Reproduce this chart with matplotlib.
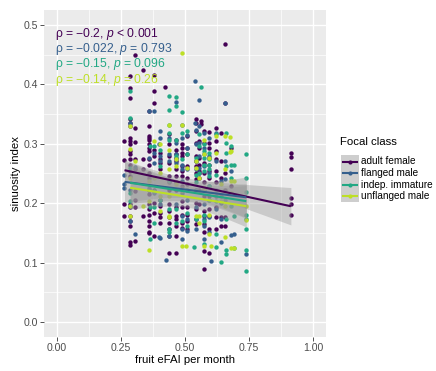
import numpy as np
import matplotlib
matplotlib.use("Agg")
import matplotlib.pyplot as plt
from matplotlib.patches import Rectangle
from matplotlib.lines import Line2D

plt.rcParams['font.family'] = ['Liberation Sans', 'DejaVu Sans']
plt.rcParams['mathtext.fontset'] = 'custom'
plt.rcParams['mathtext.rm'] = 'Liberation Sans'
plt.rcParams['mathtext.it'] = 'Liberation Sans:italic'

# sinuosity index per focal follow, grouped by monthly fruit eFAI value
adult_female = {
    0.264: [0.304, 0.272, 0.199, 0.179],
    0.286: [0.414, 0.394, 0.377, 0.341, 0.335, 0.330, 0.310, 0.304, 0.299, 0.288, 0.282,
            0.274, 0.265, 0.254, 0.246, 0.198, 0.193, 0.179, 0.170, 0.162, 0.134, 0.130],
    0.306: [0.449, 0.327, 0.303, 0.274, 0.257, 0.220, 0.206, 0.193, 0.136],
    0.335: [0.424, 0.274, 0.257, 0.179],
    0.358: [0.355, 0.330, 0.313, 0.310, 0.307, 0.299, 0.293, 0.288, 0.274, 0.265, 0.251,
            0.243, 0.223, 0.215, 0.198, 0.190, 0.181, 0.170, 0.162, 0.151, 0.150],
    0.378: [0.416, 0.388, 0.368, 0.290, 0.279, 0.223, 0.201, 0.184, 0.145],
    0.404: [0.285, 0.274, 0.268, 0.257, 0.206, 0.195, 0.184, 0.176, 0.167],
    0.421: [0.396],
    0.437: [0.316, 0.299, 0.279, 0.268, 0.246, 0.235, 0.223, 0.198, 0.187, 0.176, 0.167,
            0.156, 0.145, 0.117],
    0.463: [0.307, 0.290, 0.282, 0.276, 0.271, 0.257, 0.246, 0.235, 0.223, 0.193, 0.179,
            0.173, 0.162, 0.145, 0.117],
    0.490: [0.299, 0.293, 0.285, 0.279, 0.262, 0.254, 0.246, 0.229, 0.204, 0.193, 0.181,
            0.167, 0.159],
    0.509: [0.313, 0.293, 0.282, 0.262, 0.243, 0.232, 0.223, 0.193, 0.181, 0.170, 0.156],
    0.542: [0.341, 0.335, 0.321, 0.302, 0.279, 0.271, 0.262, 0.251, 0.240, 0.223, 0.201,
            0.190, 0.173, 0.165],
    0.555: [0.304, 0.293, 0.276, 0.265, 0.254, 0.251, 0.243, 0.223, 0.198],
    0.562: [0.339, 0.333],
    0.575: [0.321, 0.302, 0.268, 0.251, 0.235, 0.212, 0.187, 0.179, 0.165, 0.151, 0.120, 0.089],
    0.595: [0.319, 0.302, 0.293, 0.276, 0.265, 0.254, 0.243, 0.212, 0.190, 0.179, 0.156, 0.117],
    0.621: [0.327, 0.304, 0.288, 0.274, 0.254, 0.235, 0.212, 0.193, 0.176, 0.156],
    0.640: [0.318, 0.271, 0.243, 0.212, 0.176, 0.162],
    0.657: [0.468, 0.369, 0.251, 0.223, 0.176, 0.162],
    0.680: [0.293, 0.229],
    0.913: [0.284, 0.277, 0.258, 0.209, 0.198, 0.181],
}

flanged_male = {
    0.264: [0.248, 0.232, 0.226],
    0.286: [0.335, 0.223, 0.170],
    0.306: [0.261, 0.148],
    0.358: [0.355, 0.276, 0.226, 0.223],
    0.378: [0.355, 0.285, 0.268, 0.218],
    0.398: [0.300, 0.143],
    0.404: [0.321, 0.310, 0.279, 0.271, 0.198, 0.142],
    0.424: [0.105],
    0.437: [0.310, 0.282, 0.271, 0.145],
    0.463: [0.371, 0.302, 0.282, 0.274, 0.268, 0.198],
    0.490: [0.332, 0.310, 0.265, 0.257, 0.237, 0.218, 0.179, 0.156, 0.139],
    0.509: [0.314, 0.293, 0.257, 0.206, 0.173, 0.153],
    0.538: [0.405, 0.335],
    0.542: [0.324, 0.299, 0.271, 0.257, 0.223, 0.193, 0.156],
    0.555: [0.374, 0.330, 0.302, 0.279, 0.260],
    0.575: [0.318, 0.293, 0.282, 0.262, 0.223, 0.198, 0.173, 0.162, 0.139],
    0.595: [0.310, 0.279, 0.251, 0.229, 0.206, 0.176, 0.151],
    0.601: [0.103],
    0.621: [0.318, 0.271, 0.223, 0.190],
    0.640: [0.237, 0.201, 0.173, 0.134],
    0.657: [0.368, 0.271, 0.240, 0.206],
    0.680: [0.254, 0.146],
    0.693: [0.148],
    0.739: [0.114],
}

indep_immature = {
    0.286: [0.388, 0.343, 0.260, 0.218, 0.204, 0.195],
    0.362: [0.296, 0.193, 0.140],
    0.378: [0.296, 0.220, 0.193, 0.167],
    0.404: [0.290, 0.262, 0.206],
    0.437: [0.380, 0.357, 0.332, 0.318, 0.307, 0.237, 0.190, 0.156, 0.151],
    0.463: [0.379, 0.363, 0.307, 0.279, 0.190, 0.167],
    0.490: [0.354, 0.318, 0.274, 0.170],
    0.509: [0.321, 0.282, 0.223, 0.184, 0.162],
    0.535: [0.126],
    0.542: [0.276, 0.248, 0.235, 0.221, 0.173],
    0.555: [0.316, 0.296, 0.251],
    0.562: [0.395],
    0.575: [0.299, 0.288, 0.276, 0.265, 0.254, 0.223, 0.181, 0.170, 0.131],
    0.595: [0.285, 0.274, 0.265, 0.257, 0.246, 0.229, 0.206],
    0.621: [0.316, 0.248, 0.204, 0.148, 0.126],
    0.640: [0.101],
    0.660: [0.318, 0.302, 0.285, 0.262, 0.173, 0.122, 0.114],
    0.680: [0.296, 0.265, 0.243, 0.195],
    0.693: [0.265, 0.179, 0.125],
    0.739: [0.283, 0.242, 0.219, 0.181, 0.174, 0.156, 0.121, 0.086],
}

unflanged_male = {
    0.286: [0.330, 0.292, 0.243, 0.195, 0.179],
    0.306: [0.271],
    0.335: [0.195],
    0.358: [0.237, 0.204, 0.122],
    0.378: [0.304, 0.243],
    0.404: [0.299, 0.251, 0.212, 0.187],
    0.437: [0.332, 0.290, 0.257, 0.212, 0.179, 0.176],
    0.463: [0.274, 0.262, 0.232],
    0.490: [0.452, 0.332, 0.223, 0.128],
    0.503: [0.128],
    0.509: [0.260],
    0.542: [0.271, 0.260, 0.179],
    0.555: [0.243, 0.179, 0.167],
    0.575: [0.307, 0.282, 0.226, 0.128],
    0.595: [0.276, 0.181, 0.148],
    0.601: [0.128],
    0.621: [0.313, 0.285],
    0.640: [0.232, 0.204],
    0.657: [0.313, 0.257, 0.195, 0.143],
    0.676: [0.312, 0.286],
    0.680: [0.288, 0.237, 0.218, 0.125],
    0.693: [0.237, 0.124],
    0.739: [0.195, 0.172],
}

class_names = ["adult female", "flanged male", "indep. immature", "unflanged male"]
class_data = [adult_female, flanged_male, indep_immature, unflanged_male]

# fitted linear models (sinuosity ~ eFAI) for each focal class
fit_intercept = [0.2802, 0.2504, 0.2539, 0.2456]
fit_slope = [-0.0934, -0.0547, -0.0682, -0.0684]

rho_labels = ["\u03c1 = \u22120.2, $p$ < 0.001",
              "\u03c1 = \u22120.022, $p$ = 0.793",
              "\u03c1 = \u22120.15, $p$ = 0.096",
              "\u03c1 = \u22120.14, $p$ = 0.26"]
rho_label_y = [0.484, 0.459, 0.434, 0.408]

x_ticks = [0.0, 0.25, 0.5, 0.75, 1.0]
x_ticklabels = ["0.00", "0.25", "0.50", "0.75", "1.00"]
y_ticks = [0.0, 0.1, 0.2, 0.3, 0.4, 0.5]
y_ticklabels = ["0.0", "0.1", "0.2", "0.3", "0.4", "0.5"]

class_colors = [matplotlib.colors.to_hex(c) for c in plt.cm.viridis(np.linspace(0, 0.9, 4))]


def flatten(columns):
    xs, ys = [], []
    for xv, yv in columns.items():
        xs.extend([xv] * len(yv))
        ys.extend(yv)
    return np.array(xs), np.array(ys)


def t_quantile(df):
    # series expansion of the 97.5% Student t quantile
    z = 1.959964
    return (z + (z ** 3 + z) / (4 * df) + (5 * z ** 5 + 16 * z ** 3 + 3 * z) / (96 * df ** 2))


def fit_band(x, y, b0, b1, n=80):
    xg = np.linspace(x.min(), x.max(), n)
    yg = b0 + b1 * xg
    resid = y - (b0 + b1 * x)
    dof = len(x) - 2
    s = np.sqrt(np.sum(resid ** 2) / dof)
    sxx = np.sum((x - x.mean()) ** 2)
    se = s * np.sqrt(1.0 / len(x) + (xg - x.mean()) ** 2 / sxx)
    tq = t_quantile(dof)
    return xg, yg, yg - tq * se, yg + tq * se


W, H = 436, 371
fig = plt.figure(figsize=(W / 100, H / 100), dpi=100)
fig.patch.set_facecolor("white")
pl, pr, pt, pb = 44, 326, 10, 337
ax = fig.add_axes([pl / W, 1 - pb / H, (pr - pl) / W, (pb - pt) / H])
ax.set_facecolor("#EBEBEB")
for sp in ax.spines.values():
    sp.set_visible(False)

ax.set_xlim(-0.05, 1.05)
ax.set_ylim(-0.025, 0.525)

# grid lines
for v in [0.125, 0.375, 0.625, 0.875]:
    ax.axvline(v, color="white", lw=0.5, zorder=0)
for v in [0.05, 0.15, 0.25, 0.35, 0.45]:
    ax.axhline(v, color="white", lw=0.5, zorder=0)
for v in x_ticks:
    ax.axvline(v, color="white", lw=1.0, zorder=0)
for v in y_ticks:
    ax.axhline(v, color="white", lw=1.0, zorder=0)

# points
for data, col in zip(class_data, class_colors):
    x, y = flatten(data)
    ax.scatter(x, y, s=10, color=col, linewidths=0, zorder=2)

# linear fits with 95% confidence bands
for data, col, b0, b1 in zip(class_data, class_colors, fit_intercept, fit_slope):
    x, y = flatten(data)
    xg, yg, lo, hi = fit_band(x, y, b0, b1)
    ax.fill_between(xg, lo, hi, color="#999999", alpha=0.4, linewidth=0, zorder=3)
    ax.plot(xg, yg, color=col, lw=1.5, zorder=4, solid_capstyle="butt")

# correlation annotations
for lab, yv, col in zip(rho_labels, rho_label_y, class_colors):
    ax.text(-0.008, yv, lab, color=col, fontsize=8.7, ha="left", va="center", zorder=5)

ax.set_xticks(x_ticks)
ax.set_xticklabels(x_ticklabels)
ax.set_yticks(y_ticks)
ax.set_yticklabels(y_ticklabels)
ax.tick_params(axis="both", colors="#333333", length=2.7, width=0.6, labelsize=7.6,
               labelcolor="#4D4D4D", pad=1.5)
ax.set_xlabel("fruit eFAI per month", fontsize=8.2, color="black", labelpad=1.5)
ax.set_ylabel("sinuosity index", fontsize=8.2, color="black", labelpad=2)

# legend drawn in pixel space
def fx(px):
    return px / W


def fy(py):
    return 1 - py / H


fig.text(fx(340), fy(142), "Focal class", fontsize=8.2, ha="left", va="center")
key_rows = [161.5, 173, 184.5, 196]
key_l, key_r = 340.5, 358.5
fig.patches.append(Rectangle((fx(key_l), fy(201.5)), fx(key_r) - fx(key_l), fy(155.5) - fy(201.5),
                             transform=fig.transFigure, facecolor="#F2F2F2", edgecolor="none"))
fig.patches.append(Rectangle((fx(key_l), fy(201.5)), fx(key_r) - fx(key_l), fy(155.5) - fy(201.5),
                             transform=fig.transFigure, facecolor="#999999", alpha=0.4,
                             edgecolor="none"))
for name, col, ry in zip(class_names, class_colors, key_rows):
    fig.lines.append(Line2D([fx(342.5), fx(356.5)], [fy(ry), fy(ry)], color=col, lw=1.5,
                            transform=fig.transFigure))
    fig.lines.append(Line2D([fx(349.5)], [fy(ry)], marker="o", markersize=3, color=col,
                            markeredgewidth=0, transform=fig.transFigure))
    fig.text(fx(361), fy(ry), name, fontsize=7.2, ha="left", va="center")

fig.savefig("out.png", dpi=100)
